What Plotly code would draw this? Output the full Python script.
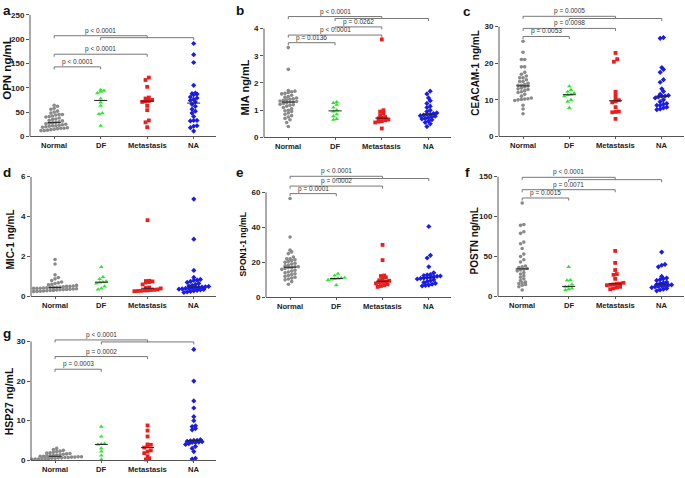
import numpy as np
import plotly.graph_objects as go

W, H = 685, 478
GROUPS = ["Normal", "DF", "Metastasis", "NA"]
COLORS = ["#8a8a8a", "#2ee62e", "#ee1c1c", "#1c1ce8"]
SYMBOLS = ["circle", "triangle-up", "square", "diamond"]
SIZES = [3.6, 4.2, 3.8, 4.0]
FONT = "Liberation Sans"

# a: OPN
opn_normal = [64, 62, 58, 56, 52, 50, 48, 45, 45, 44, 42, 41, 40, 38, 36, 35, 33, 32, 30, 29,
              28, 27, 26, 25, 24, 23, 22, 22, 21, 20, 19, 18, 17, 17, 16, 15, 14, 13, 12, 12]
opn_df = [96, 94, 92, 89, 78, 70, 63, 48, 46, 22]
opn_met = [121, 116, 102, 80, 78, 75, 73, 72, 71, 63, 54, 33, 29, 19]
opn_na = [191, 168, 152, 105, 89, 88, 87, 86, 81, 79, 76, 74, 71, 66, 62, 56, 52, 48, 41, 33,
          33, 32, 22, 21, 18, 11]
opn_p = [(0, 1, 143, "p < 0.0001"), (0, 2, 169, "p < 0.0001"),
         (0, 2, 207, "p < 0.0001"), (1, 3, 203, "")]

# b: MIA
mia_normal = [3.3, 2.5, 1.72, 1.7, 1.68, 1.65, 1.62, 1.6, 1.55, 1.5, 1.48, 1.45, 1.42, 1.4, 1.38,
              1.36, 1.34, 1.32, 1.3, 1.3, 1.28, 1.25, 1.22, 1.2, 1.18, 1.15, 1.1, 1.05, 1.0, 0.98,
              0.95, 0.9, 0.85, 0.8, 0.75, 0.7, 0.65, 0.55, 0.4]
mia_df = [1.3, 1.27, 1.2, 1.1, 1.0, 0.95, 0.85, 0.78, 0.68, 0.65]
mia_met = [3.6, 1.0, 0.95, 0.88, 0.82, 0.75, 0.72, 0.7, 0.66, 0.63, 0.6, 0.58, 0.55, 0.33]
mia_na = [1.7, 1.6, 1.45, 1.35, 1.25, 1.15, 1.1, 1.0, 0.95, 0.9, 0.88, 0.85, 0.85, 0.82, 0.8,
          0.78, 0.75, 0.72, 0.7, 0.68, 0.65, 0.6, 0.55, 0.5, 0.4]
mia_p = [(0, 1, 3.48, "p = 0.0136"), (0, 2, 3.76, "p < 0.0001"), (1, 2, 4.06, "p = 0.0262"),
         (0, 2, 4.44, "p < 0.0001"), (1, 3, 4.37, "")]

# c: CEACAM-1
cea_normal = [26, 23, 21, 21, 19, 19, 17.5, 17, 16.5, 16, 16, 15.5, 15, 15, 14.5, 14.2, 14, 14,
              13.8, 13.5, 13.2, 13, 12.8, 12.5, 12.2, 12, 11.5, 11, 10.5, 10.3, 10.2, 10.1, 10,
              9.8, 8.5, 7.5, 6.2]
cea_df = [13.7, 12.7, 12.2, 11.8, 11.5, 11.3, 11, 10, 9.5, 7.8]
cea_met = [22.8, 21.1, 20.4, 12.2, 11.3, 10.3, 9.9, 9.6, 9.3, 8.0, 6.8, 6.7, 6.6, 4.8]
cea_na = [27, 26.8, 18.8, 18.3, 17.5, 15.5, 14.8, 13, 12.3, 11.5, 11.2, 11, 11, 10.8, 10.5, 10,
          9.5, 9, 8.8, 8.5, 8.5, 8, 7.8, 7.5, 7.3]
cea_p = [(0, 1, 27.3, "p = 0.0053"), (0, 2, 29.5, "p = 0.0098"),
         (0, 2, 32.8, "p = 0.0005"), (1, 3, 32.2, "")]

# d: MIC-1
mic_normal = [1.85, 1.62, 1.08, 0.95, 0.88, 0.8, 0.72, 0.68, 0.65, 0.6, 0.58, 0.55, 0.52, 0.5,
              0.5, 0.48, 0.47, 0.46, 0.45, 0.44, 0.43, 0.42, 0.41, 0.4, 0.4, 0.38, 0.37, 0.36,
              0.35, 0.34, 0.33, 0.32, 0.3, 0.3, 0.28, 0.27, 0.26, 0.25, 0.24]
mic_df = [1.47, 0.97, 0.87, 0.75, 0.72, 0.7, 0.65, 0.5, 0.4, 0.35]
mic_met = [3.82, 0.78, 0.77, 0.75, 0.72, 0.7, 0.6, 0.45, 0.42, 0.4, 0.35, 0.33, 0.32, 0.3, 0.3,
           0.28, 0.27, 0.26]
mic_na = [4.88, 2.87, 1.3, 0.95, 0.85, 0.82, 0.8, 0.75, 0.7, 0.65, 0.6, 0.55, 0.52, 0.5, 0.48,
          0.47, 0.45, 0.44, 0.42, 0.4, 0.4, 0.38, 0.36, 0.35, 0.33, 0.3, 0.28, 0.25, 0.22, 0.2]
mic_p = []

# e: SPON1-1
spo_normal = [56.5, 34.5, 27, 26, 25, 23, 22, 22, 21.5, 21, 20.5, 20, 19.5, 19, 18.5, 18, 17.5,
              17.5, 17, 17, 16.5, 16, 15.5, 15, 14.5, 14, 13.5, 13, 12.5, 12, 11.5, 11, 10.5, 10,
              9, 7.5]
spo_df = [13.5, 12.5, 11.2, 11, 10.8, 10.5, 10.3, 10, 7]
spo_met = [30, 21.3, 12.5, 12.2, 11.5, 10.8, 9.8, 9.5, 9, 8.8, 8.5, 8, 7.5, 7, 6.5, 6]
spo_na = [40.5, 24, 22.5, 17.5, 14, 13, 12.8, 12.5, 12.2, 12, 11.8, 11.5, 11.2, 11, 10.8, 10.5,
          10, 9.5, 9, 8.5, 8, 7.5, 7, 6.8, 6.5]
spo_p = [(0, 1, 59.3, "p = 0.0001"), (0, 2, 63.6, "p = 0.0002"),
         (0, 2, 69.2, "p < 0.0001"), (1, 3, 67.9, "")]

# f: POSTN
pos_normal = [117, 90, 89, 81, 79, 68, 66, 60, 53, 50, 46, 43, 38, 37, 36, 35, 34, 33, 32, 30,
              28, 26, 24, 22, 20, 18, 17, 16, 15, 14, 12, 8]
pos_df = [37, 20.5, 20, 15, 12.5, 12, 10, 9, 8]
pos_met = [57, 42, 33, 28, 27, 22, 17, 16, 15.5, 15, 14.5, 14, 12, 11, 10, 9]
pos_na = [55.5, 40, 39, 37, 25, 23, 22, 21, 20, 18, 17, 16, 15, 14.5, 14, 13.5, 13, 12.5, 12,
          11, 10, 9, 8, 7]
pos_p = [(0, 1, 123.3, "p = 0.0015"), (0, 2, 133.7, "p = 0.0071"),
         (0, 2, 149.2, "p < 0.0001"), (1, 3, 146.3, "")]

# g: HSP27
hsp_normal = [3, 2.7, 2.5, 2.3, 2.2, 2, 1.9, 1.8, 1.7, 1.6, 1.5, 1.4, 1.3, 1.2, 1.2, 1.1, 1.0,
              1.0, 0.9, 0.9, 0.8, 0.8, 0.7, 0.7, 0.6, 0.6, 0.5, 0.5, 0.4, 0.4, 0.35, 0.3, 0.3,
              0.25, 0.2]
hsp_df = [8.5, 6, 4.2, 4.1, 4.0, 3.0, 2.2, 1.2, 0.2]
hsp_met = [8.8, 7.5, 6, 4, 3.9, 3.5, 3.2, 2.5, 2.2, 1.8, 1.0, 0.5, 0.2]
hsp_na = [28, 20, 15, 13.2, 11, 10, 8.7, 8.5, 8, 7.7, 5.2, 5, 5, 4.9, 4.8, 4.7, 4.6, 4.5, 4.5,
          4.2, 4, 3.5, 3, 2.2, 0.5, 0.3]
hsp_p = [(0, 1, 23.0, "p = 0.0003"), (0, 2, 26.2, "p = 0.0002"),
         (0, 2, 30.4, "p < 0.0001"), (1, 3, 29.9, "")]

# geometry in pixels: (axis left, axis right, zero y, top tick y, domain top y)
panels = [
    dict(letter="a", lx=1, ly=7, title="OPN ng/mL", tx=7, ty=66, ts=11.5,
         data=[opn_normal, opn_df, opn_met, opn_na], ticks=[0, 50, 100, 150, 200, 250],
         p=opn_p, box=(30, 216, 135, 11, 11)),
    dict(letter="b", lx=234, ly=7, title="MIA ng/mL", tx=245, ty=85, ts=11,
         data=[mia_normal, mia_df, mia_met, mia_na], ticks=[0, 1, 2, 3, 4],
         p=mia_p, box=(264, 451, 136, 25, 8)),
    dict(letter="c", lx=461, ly=8, title="CEACAM-1 ng/mL", tx=476, ty=70, ts=10,
         data=[cea_normal, cea_df, cea_met, cea_na], ticks=[0, 10, 20, 30],
         p=cea_p, box=(499, 684, 135, 23, 8)),
    dict(letter="d", lx=1, ly=172, title="MIC-1 ng/mL", tx=10, ty=240, ts=10,
         data=[mic_normal, mic_df, mic_met, mic_na], ticks=[0, 2, 4, 6],
         p=mic_p, box=(31, 216, 298, 176, 176)),
    dict(letter="e", lx=234, ly=172, title="SPON1-1 ng/mL", tx=243, ty=245, ts=8.5,
         data=[spo_normal, spo_df, spo_met, spo_na], ticks=[0, 20, 40, 60],
         p=spo_p, box=(266, 451, 299, 192, 172)),
    dict(letter="f", lx=463, ly=172, title="POSTN ng/mL", tx=474, ty=242, ts=10,
         data=[pos_normal, pos_df, pos_met, pos_na], ticks=[0, 50, 100, 150],
         p=pos_p, box=(498, 684, 298, 176, 172)),
    dict(letter="g", lx=1, ly=336, title="HSP27 ng/mL", tx=9, ty=405, ts=10.5,
         data=[hsp_normal, hsp_df, hsp_met, hsp_na], ticks=[0, 10, 20, 30],
         p=hsp_p, box=(31, 216, 465, 344, 338)),
]

XR = [-0.52, 3.48]


def swarm(vals, px_unit, px_cat, row_px=3.2, step_px=3.3):
    """spread points sideways in rows, like a prism column scatter"""
    v = np.asarray(vals, float)
    order = np.argsort(v)
    off = np.zeros(len(v))
    row = []
    start = None
    for i in list(order) + [None]:
        if i is not None and start is not None and (v[i] - start) * px_unit < row_px:
            row.append(i)
            continue
        n = len(row)
        for k, j in enumerate(row):
            off[j] = (k - (n - 1) / 2) * step_px / px_cat
        if i is None:
            break
        row = [i]
        start = v[i]
    return off


fig = go.Figure()
shapes = []
annos = []
layout = {}

for n, pn in enumerate(panels, start=1):
    xl, xr, yb, yt, ytop = pn["box"]
    ymax = pn["ticks"][-1]
    px_unit = (yb - yt) / ymax
    px_cat = (xr - xl) / (XR[1] - XR[0])
    rtop = (yb - ytop) / px_unit
    sx = "" if n == 1 else str(n)
    xa, ya = "x" + sx, "y" + sx

    layout["xaxis" + sx] = dict(
        domain=[xl / W, xr / W], range=XR, anchor=ya, tickvals=[0, 1, 2, 3], ticktext=GROUPS,
        showline=True, linecolor="#555", linewidth=1, ticks="outside", ticklen=2,
        tickcolor="#555", showgrid=False, zeroline=False, showticklabels=False)
    layout["yaxis" + sx] = dict(
        domain=[1 - yb / H, 1 - ytop / H], range=[0, rtop], anchor=xa, tickvals=pn["ticks"],
        showline=False, ticks="outside", ticklen=3, tickcolor="#555", showgrid=False,
        zeroline=False, tickfont=dict(family=FONT, size=8, color="#222", weight="bold"))

    # y axis line only up to top tick
    shapes.append(dict(type="line", xref=xa + " domain", yref=ya, x0=0, x1=0, y0=0, y1=ymax,
                       line=dict(color="#555", width=1)))

    # category labels under the axis
    for g, name in enumerate(GROUPS):
        annos.append(dict(x=g, y=0, xref=xa, yref=ya + " domain", text=name, showarrow=False,
                          yanchor="top", yshift=-3,
                          font=dict(family=FONT, size=7.6, color="#222", weight="bold")))

    for g, vals in enumerate(pn["data"]):
        off = swarm(vals, px_unit, px_cat)
        fig.add_trace(go.Scatter(
            x=g + off, y=vals, xaxis=xa, yaxis=ya, mode="markers", cliponaxis=False,
            marker=dict(symbol=SYMBOLS[g], color=COLORS[g], size=SIZES[g], line=dict(width=0)),
            hoverinfo="y", showlegend=False))
        med = float(np.median(vals))
        shapes.append(dict(type="line", xref=xa, yref=ya, x0=g - 0.14, x1=g + 0.14, y0=med,
                           y1=med, line=dict(color="#222", width=1)))

    drop = 2.6 / px_unit
    for a, b, lev, lab in pn["p"]:
        shapes.append(dict(type="path", xref=xa, yref=ya,
                           path=f"M {a},{lev - drop} L {a},{lev} L {b},{lev} L {b},{lev - drop}",
                           line=dict(color="#777", width=1)))
        if lab:
            annos.append(dict(x=(a + b) / 2, y=lev, xref=xa, yref=ya, text=lab,
                              showarrow=False, yanchor="bottom", yshift=-1,
                              font=dict(family=FONT, size=6.5, color="#333")))

    annos.append(dict(x=pn["tx"] / W, y=1 - pn["ty"] / H, xref="paper", yref="paper",
                      text=pn["title"], textangle=-90, showarrow=False,
                      xanchor="center", yanchor="middle",
                      font=dict(family=FONT, size=pn["ts"], color="#111", weight="bold")))
    annos.append(dict(x=pn["lx"] / W, y=1 - pn["ly"] / H, xref="paper", yref="paper",
                      text=pn["letter"], showarrow=False, xanchor="left", yanchor="middle",
                      font=dict(family=FONT, size=13.5, color="#111", weight="bold")))

fig.update_layout(width=W, height=H, margin=dict(l=0, r=0, t=0, b=0),
                  paper_bgcolor="white", plot_bgcolor="white", showlegend=False,
                  shapes=shapes, annotations=annos, **layout)

# the page body has a default 8px margin; drop it so the figure sits at the corner
fig.write_html("out.html", config={"displayModeBar": False},
               post_script="document.body.style.margin='0px';")
